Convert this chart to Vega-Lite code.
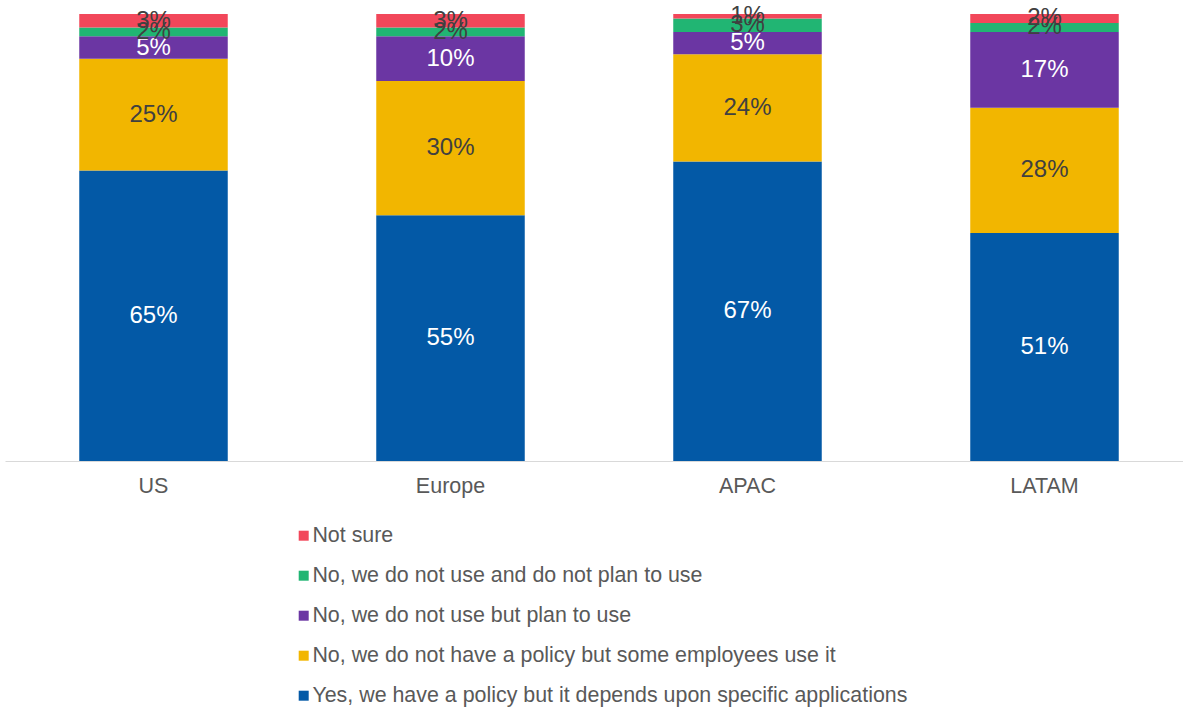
{
  "$schema": "https://vega.github.io/schema/vega-lite/v6.json",
  "autosize": "none",
  "width": 1178,
  "height": 447,
  "padding": {"left": 5, "top": 14, "right": 0, "bottom": 246},
  "background": "white",
  "config": {"view": {"stroke": null}, "font": "Liberation Sans"},
  "data": {"values": [
    {"region": "US", "answer": "Yes, we have a policy but it depends upon specific applications", "rank": 1, "pct": 65},
    {"region": "US", "answer": "No, we do not have a policy but some employees use it", "rank": 2, "pct": 25},
    {"region": "US", "answer": "No, we do not use but plan to use", "rank": 3, "pct": 5},
    {"region": "US", "answer": "No, we do not use and do not plan to use", "rank": 4, "pct": 2},
    {"region": "US", "answer": "Not sure", "rank": 5, "pct": 3},
    {"region": "Europe", "answer": "Yes, we have a policy but it depends upon specific applications", "rank": 1, "pct": 55},
    {"region": "Europe", "answer": "No, we do not have a policy but some employees use it", "rank": 2, "pct": 30},
    {"region": "Europe", "answer": "No, we do not use but plan to use", "rank": 3, "pct": 10},
    {"region": "Europe", "answer": "No, we do not use and do not plan to use", "rank": 4, "pct": 2},
    {"region": "Europe", "answer": "Not sure", "rank": 5, "pct": 3},
    {"region": "APAC", "answer": "Yes, we have a policy but it depends upon specific applications", "rank": 1, "pct": 67},
    {"region": "APAC", "answer": "No, we do not have a policy but some employees use it", "rank": 2, "pct": 24},
    {"region": "APAC", "answer": "No, we do not use but plan to use", "rank": 3, "pct": 5},
    {"region": "APAC", "answer": "No, we do not use and do not plan to use", "rank": 4, "pct": 3},
    {"region": "APAC", "answer": "Not sure", "rank": 5, "pct": 1},
    {"region": "LATAM", "answer": "Yes, we have a policy but it depends upon specific applications", "rank": 1, "pct": 51},
    {"region": "LATAM", "answer": "No, we do not have a policy but some employees use it", "rank": 2, "pct": 28},
    {"region": "LATAM", "answer": "No, we do not use but plan to use", "rank": 3, "pct": 17},
    {"region": "LATAM", "answer": "No, we do not use and do not plan to use", "rank": 4, "pct": 2},
    {"region": "LATAM", "answer": "Not sure", "rank": 5, "pct": 2}
  ]},
  "transform": [
    {"stack": "pct", "groupby": ["region"], "sort": [{"field": "rank", "order": "ascending"}], "as": ["y0", "y1"]},
    {"calculate": "(datum.y0 + datum.y1) / 2", "as": "ymid"},
    {"calculate": "datum.pct + '%'", "as": "label"}
  ],
  "encoding": {
    "x": {
      "field": "region", "type": "nominal", "sort": ["US", "Europe", "APAC", "LATAM"],
      "scale": {"paddingInner": 0.5, "paddingOuter": 0.25, "range": [0, 1188]},
      "axis": {"title": null, "labelAngle": 0, "ticks": false, "domainColor": "#D9D9D9", "domainWidth": 1,
               "labelFontSize": 21.5, "labelColor": "#595959", "labelPadding": 14, "labelFont": "Liberation Sans"}
    }
  },
  "layer": [
    {
      "mark": {"type": "bar"},
      "encoding": {
        "y": {"field": "y0", "type": "quantitative", "scale": {"domain": [0, 100]}, "axis": null},
        "y2": {"field": "y1"},
        "color": {
          "field": "answer", "type": "nominal",
          "scale": {
            "domain": ["Not sure", "No, we do not use and do not plan to use", "No, we do not use but plan to use", "No, we do not have a policy but some employees use it", "Yes, we have a policy but it depends upon specific applications"],
            "range": ["#F2475A", "#21B573", "#6B36A3", "#F2B600", "#0359A6"]
          },
          "legend": {
            "title": null, "orient": "none", "legendX": 288, "legendY": 511,
            "symbolType": "square", "symbolSize": 100, "symbolStrokeWidth": 0,
            "labelFontSize": 21.4, "labelColor": "#595959", "labelFont": "Liberation Sans",
            "rowPadding": 17, "labelOffset": -2, "labelLimit": 800
          }
        }
      }
    },
    {
      "mark": {"type": "text", "fontSize": 24, "font": "Liberation Sans", "baseline": "middle"},
      "encoding": {
        "y": {"field": "ymid", "type": "quantitative", "scale": {"domain": [0, 100]}},
        "text": {"field": "label", "type": "nominal"},
        "color": {"value": "#404040", "condition": {"test": "datum.rank === 1 || datum.rank === 3", "value": "#FFFFFF"}}
      }
    }
  ]
}
